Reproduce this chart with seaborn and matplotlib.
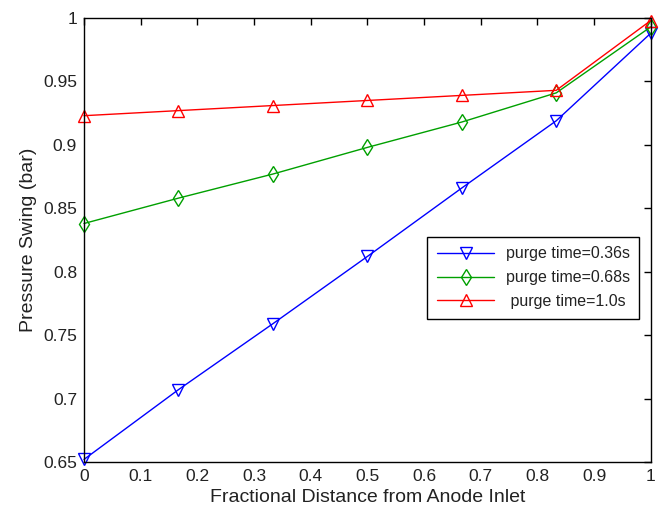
import numpy as np
import pandas as pd
import seaborn as sns
import matplotlib
matplotlib.use("Agg")
import matplotlib.pyplot as plt

x_vals = [0, 1/6, 2/6, 3/6, 4/6, 5/6, 1]
p036 = [0.652, 0.707, 0.759, 0.812, 0.866, 0.919, 0.988]
p068 = [0.838, 0.858, 0.877, 0.898, 0.918, 0.941, 0.993]
p100 = [0.923, 0.927, 0.931, 0.935, 0.939, 0.943, 0.998]
labels = ["purge time=0.36s", "purge time=0.68s", " purge time=1.0s"]
x_ticks = [0, 0.1, 0.2, 0.3, 0.4, 0.5, 0.6, 0.7, 0.8, 0.9, 1]
y_ticks = [0.65, 0.7, 0.75, 0.8, 0.85, 0.9, 0.95, 1]
y_ticklabels = ["0.65", "0.7", "0.75", "0.8", "0.85", "0.9", "0.95", "1"]

rows = []
for lab, ser in zip(labels, [p036, p068, p100]):
    for xv, yv in zip(x_vals, ser):
        rows.append({"x": xv, "y": yv, "series": lab})
df = pd.DataFrame(rows)

sns.set_style("white")
plt.rcParams['font.family'] = ['Liberation Sans', 'DejaVu Sans']

fig = plt.figure(figsize=(6.64, 5.15), dpi=100)
ax = fig.add_axes([0.1265, 0.103, 0.8535, 0.862])

colors = ["#0000ff", "#00a000", "#ff0000"]
markers = ["v", "d", "^"]
for lab, c, m in zip(labels, colors, markers):
    sub = df[df["series"] == lab]
    sns.lineplot(data=sub, x="x", y="y", ax=ax, color=c, marker=m,
                 markersize=8.5, markerfacecolor="none", markeredgecolor=c,
                 markeredgewidth=1.0, linewidth=1.0, label=lab, legend=True,
                 clip_on=False)

ax.set_xlim(0, 1)
ax.set_ylim(0.65, 1)
ax.set_xticks(x_ticks)
ax.set_xticklabels([f"{t:g}" for t in x_ticks])
ax.set_yticks(y_ticks)
ax.set_yticklabels(y_ticklabels)
ax.tick_params(direction="in", top=True, right=True, length=5, width=1,
               labelsize=12.5, colors="black", labelcolor="#222222", pad=5)
for s in ax.spines.values():
    s.set_visible(True)
    s.set_color("black")
    s.set_linewidth(1.0)
ax.set_xlabel("Fractional Distance from Anode Inlet", fontsize=14, color="#222222")
ax.set_ylabel("Pressure Swing (bar)", fontsize=14, color="#222222")

leg = ax.legend(loc="upper right", bbox_to_anchor=(0.98, 0.507),
                borderaxespad=0.0,
                fontsize=11.5, frameon=True, fancybox=False, edgecolor="black",
                framealpha=1, borderpad=0.6, handlelength=3.6, labelspacing=0.55,
                handletextpad=0.7)
leg.get_frame().set_linewidth(1.0)
for t in leg.get_texts():
    t.set_color("#222222")

fig.savefig("out.png", dpi=100)
